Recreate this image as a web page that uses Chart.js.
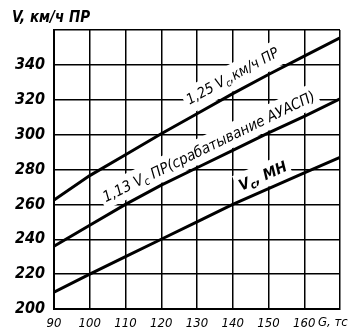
<!DOCTYPE html>
<html>
<head>
<meta charset="utf-8">
<script src="https://cdn.jsdelivr.net/npm/chart.js@4"></script>
<style>
  html, body { margin: 0; padding: 0; background: #fff; }
  #wrap { width: 352px; height: 334px; }
</style>
</head>
<body>
<div id="wrap"><canvas id="grafik" width="352" height="334"></canvas></div>
<script>
// masa G, tc
var masa = [90, 100, 110, 120, 130, 140, 150, 160, 170];
// brzine, km/h
var v125 = [262.5, 276.5, 288.5, 300.5, 312, 323.5, 334.5, 345, 355.5];
var v113 = [236, 248, 260, 271, 281, 291, 301, 310.5, 320.5];
var vMin = [209.6, 220, 230, 240, 250, 260, 269, 278, 287];

var yTicks = [200, 220, 240, 260, 280, 300, 320, 340];
var xTicks = [90, 100, 110, 120, 130, 140, 150, 160];

// natpisi uz krivulje: [dijelovi teksta], G, indeks serije, odmak
var natpisi = [
  { dijelovi: [['1,25 ', 0], ['V', 0], ['c', 1], [',км/ч ПР', 0]], g: 142, ds: 0, odmak: 11, vel: 14.5, stil: 'italic' },
  { dijelovi: [['1,13 ', 0], ['V', 0], ['c', 1], [' ПР(срабатывание АУАСП)', 0]], g: 135, ds: 1, odmak: 9, vel: 15, stil: 'italic' },
  { dijelovi: [['V', 0], ['c', 1], [', МН', 0]], g: 150, ds: 2, odmak: 9, vel: 15, stil: 'italic bold' }
];

var FONT = '"DejaVu Sans Condensed", "Liberation Sans Narrow", sans-serif';

function tocke(vrijednosti) {
  return masa.map(function (g, i) { return { x: g, y: vrijednosti[i] }; });
}

function interp(niz, g) {
  for (var i = 0; i < masa.length - 1; i++) {
    if (g >= masa[i] && g <= masa[i + 1]) {
      var t = (g - masa[i]) / (masa[i + 1] - masa[i]);
      return niz[i] + t * (niz[i + 1] - niz[i]);
    }
  }
  return niz[niz.length - 1];
}

var nizovi = [v125, v113, vMin];

function fontDijela(n, sub) {
  return n.stil + ' ' + (sub ? Math.round(n.vel * 0.72) : n.vel) + 'px ' + FONT;
}

var natpisPlugin = {
  id: 'natpisi',
  beforeDatasetsDraw: function (chart) {
    // bijela podloga ispod natpisa (mreza je prekinuta)
    var c = chart.ctx;
    var xs = chart.scales.x, ys = chart.scales.y;
    natpisi.forEach(function (n) {
      var niz = nizovi[n.ds];
      var x1 = xs.getPixelForValue(n.g - 5), y1 = ys.getPixelForValue(interp(niz, n.g - 5));
      var x2 = xs.getPixelForValue(n.g + 5), y2 = ys.getPixelForValue(interp(niz, n.g + 5));
      var kut = Math.atan2(y2 - y1, x2 - x1);
      var px = xs.getPixelForValue(n.g), py = ys.getPixelForValue(interp(niz, n.g));
      var sirina = 0;
      n.dijelovi.forEach(function (d) {
        c.font = fontDijela(n, d[1]);
        sirina += c.measureText(d[0]).width;
      });
      n.sirina = sirina; n.kut = kut; n.px = px; n.py = py;
      c.save();
      c.translate(px, py);
      c.rotate(kut);
      c.fillStyle = '#fff';
      c.fillRect(-sirina / 2 - 3, -n.odmak - n.vel - 2, sirina + 6, n.vel + n.odmak);
      c.restore();
    });
  },
  afterDatasetsDraw: function (chart) {
    var c = chart.ctx;
    c.save();
    c.fillStyle = '#000';
    natpisi.forEach(function (n) {
      c.save();
      c.translate(n.px, n.py);
      c.rotate(n.kut);
      c.textBaseline = 'alphabetic';
      var x = -n.sirina / 2;
      n.dijelovi.forEach(function (d) {
        c.font = fontDijela(n, d[1]);
        c.fillText(d[0], x, -n.odmak + (d[1] ? 3 : 0));
        x += c.measureText(d[0]).width;
      });
      c.restore();
    });
    // naslovi osi
    c.font = 'italic bold 15px ' + FONT;
    c.textAlign = 'left';
    c.textBaseline = 'middle';
    c.fillText('V, км/ч ПР', 12, 18);
    c.font = 'italic 13px ' + FONT;
    c.fillText('G, тс', 318, 323);
    c.restore();
  }
};

var ctx = document.getElementById('grafik').getContext('2d');

var config = {
  type: 'line',
  data: {
    datasets: [
      { data: tocke(v125) },
      { data: tocke(v113) },
      { data: tocke(vMin) }
    ]
  },
  options: {
    responsive: false,
    animation: false,
    devicePixelRatio: 1,
    layout: { padding: { top: 30, right: 12, left: 0, bottom: 0 } },
    elements: {
      line: { borderColor: '#000', borderWidth: 3, tension: 0, fill: false },
      point: { radius: 0 }
    },
    plugins: { legend: { display: false }, tooltip: { enabled: false } },
    scales: {
      x: {
        type: 'linear', min: 90, max: 170,
        afterFit: function (s) { s.height = 25; },
        afterBuildTicks: function (s) { s.ticks = masa.map(function (v) { return { value: v }; }); },
        ticks: {
          autoSkip: false, maxRotation: 0, padding: 7, color: '#000',
          font: { family: FONT, size: 13, style: 'italic' },
          callback: function (v) { return xTicks.indexOf(v) >= 0 ? String(v) : ''; }
        },
        grid: { color: '#000', lineWidth: 1.5, drawTicks: false },
        border: { color: '#000', width: 2 }
      },
      y: {
        min: 200, max: 360,
        afterFit: function (s) { s.width = 54; },
        afterBuildTicks: function (s) {
          var t = [];
          for (var v = 200; v <= 360; v += 20) t.push({ value: v });
          s.ticks = t;
        },
        ticks: {
          padding: 9, color: '#000',
          font: { family: FONT, size: 16, style: 'italic', weight: 'bold' },
          callback: function (v) { return yTicks.indexOf(v) >= 0 ? String(v) : ''; }
        },
        grid: { color: '#000', lineWidth: 1.5, drawTicks: false },
        border: { color: '#000', width: 2 }
      }
    }
  },
  plugins: [natpisPlugin]
};

var chart = new Chart(ctx, config);
</script>
</body>
</html>
